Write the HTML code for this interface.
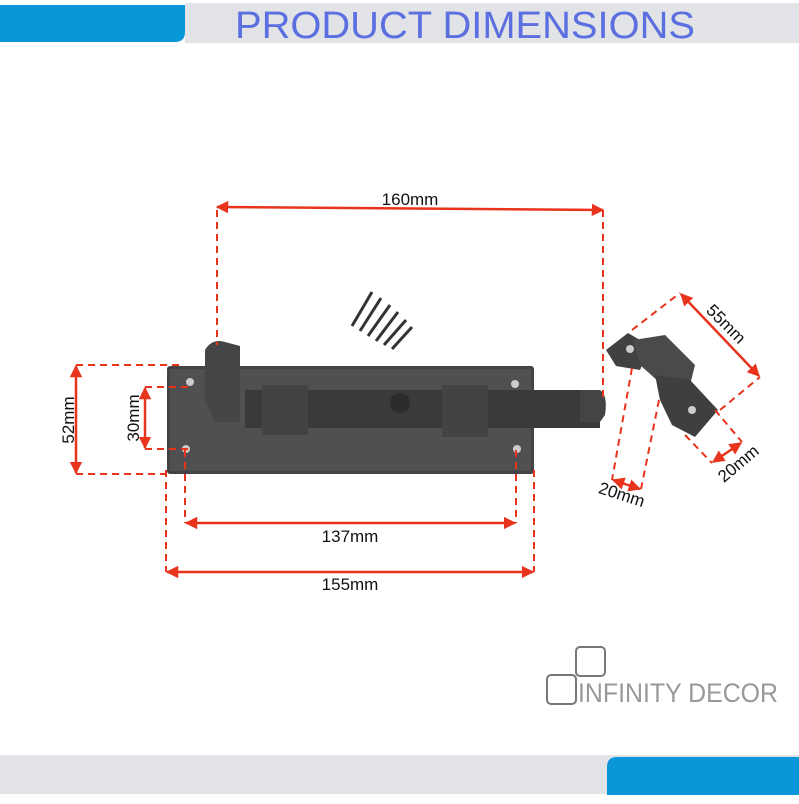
<!DOCTYPE html>
<html><head><style>
body{margin:0;background:#fff;width:799px;height:799px;overflow:hidden;font-family:"Liberation Sans",sans-serif}
</style></head><body>
<svg width="799" height="799" viewBox="0 0 799 799" xmlns="http://www.w3.org/2000/svg">
<defs>
<marker id="a" viewBox="0 0 10 10" refX="9" refY="5" markerWidth="5" markerHeight="5" orient="auto-start-reverse"><path d="M0,0L10,5L0,10z" fill="#e8341c"/></marker>
</defs>
<rect x="185" y="3" width="614" height="40" fill="#e1e3e6"/>
<path d="M0,5H185V32Q185,42 175,42H0z" fill="#0a97d9"/>
<text x="465" y="38" text-anchor="middle" font-family="Liberation Sans Narrow, Liberation Sans" font-size="38" fill="#5b6fe0" textLength="460" lengthAdjust="spacingAndGlyphs">PRODUCT  DIMENSIONS</text>
<rect x="0" y="755" width="799" height="39" fill="#e1e3e6"/>
<path d="M617,757H799V795H607V767Q607,757 617,757z" fill="#0a97d9"/>
<rect x="576" y="647" width="29" height="29" rx="4" fill="none" stroke="#777" stroke-width="2"/>
<rect x="547" y="675" width="29" height="29" rx="4" fill="none" stroke="#777" stroke-width="2"/>
<text x="578" y="702" font-size="27" fill="#999" textLength="200" lengthAdjust="spacingAndGlyphs">INFINITY DECOR</text>
<rect x="167" y="366" width="367" height="108" rx="3" fill="#434345"/>
<rect x="170" y="369" width="361" height="102" fill="#505052"/>
<circle cx="190" cy="382" r="4" fill="#ccc"/><circle cx="186" cy="449" r="4" fill="#ccc"/>
<circle cx="515" cy="384" r="4" fill="#ccc"/><circle cx="517" cy="449" r="4" fill="#ccc"/>
<rect x="245" y="390" width="355" height="38" fill="#3a3a3c"/>
<path d="M580,390H600Q608,395 605,415L600,422H580z" fill="#444446"/>
<rect x="262" y="385" width="46" height="50" fill="#434345"/>
<rect x="442" y="385" width="46" height="52" fill="#434345"/>
<circle cx="400" cy="403" r="10" fill="#2c2c2e"/>
<path d="M205,350Q212,338 225,342L240,346V422H215L205,400z" fill="#454547"/>
<g stroke="#333" stroke-width="3">
<line x1="352" y1="326" x2="372" y2="292"/><line x1="360" y1="331" x2="381" y2="298"/>
<line x1="368" y1="336" x2="390" y2="305"/><line x1="376" y1="341" x2="398" y2="312"/>
<line x1="384" y1="345" x2="406" y2="320"/><line x1="392" y1="349" x2="412" y2="327"/>
</g>
<path d="M606,350L628,333L650,346L640,370L616,366z" fill="#414143"/>
<path d="M633,340L665,335L695,365L690,385L668,390L640,365z" fill="#4a4a4c"/>
<path d="M655,375L690,380L718,410L695,437L672,425L660,400z" fill="#3f3f41"/>
<circle cx="630" cy="349" r="4" fill="#ccc"/><circle cx="692" cy="410" r="4" fill="#ccc"/>
<g stroke="#e8341c" stroke-width="2" fill="none" stroke-dasharray="7,5">
<line x1="217" y1="210" x2="217" y2="345"/><line x1="603" y1="210" x2="603" y2="400"/>
<line x1="76" y1="365" x2="180" y2="365"/><line x1="76" y1="474" x2="172" y2="474"/>
<line x1="145" y1="387" x2="190" y2="387"/><line x1="145" y1="449" x2="190" y2="449"/>
<line x1="185" y1="450" x2="185" y2="523"/><line x1="516" y1="450" x2="516" y2="523"/>
<line x1="166" y1="470" x2="166" y2="572"/><line x1="534" y1="470" x2="534" y2="572"/>
<line x1="632" y1="330" x2="680" y2="293"/><line x1="720" y1="410" x2="760" y2="377"/>
<line x1="685" y1="435" x2="712" y2="463"/><line x1="715" y1="410" x2="742" y2="442"/>
<line x1="632" y1="368" x2="612" y2="480"/><line x1="659" y1="400" x2="641" y2="489"/>
</g>
<g stroke="#e8341c" stroke-width="2.5" marker-start="url(#a)" marker-end="url(#a)">
<line x1="217" y1="207" x2="603" y2="210"/>
<line x1="76" y1="366" x2="76" y2="473"/>
<line x1="145" y1="388" x2="145" y2="448"/>
<line x1="186" y1="523" x2="515" y2="523"/>
<line x1="167" y1="572" x2="533" y2="572"/>
<line x1="681" y1="294" x2="759" y2="376"/>
<line x1="713" y1="462" x2="741" y2="443"/>
<line x1="613" y1="480" x2="640" y2="489"/>
</g>
<g font-size="17" fill="#111">
<text x="410" y="205" text-anchor="middle">160mm</text>
<text x="350" y="542" text-anchor="middle">137mm</text>
<text x="350" y="590" text-anchor="middle">155mm</text>
<text transform="translate(74,420) rotate(-90)" text-anchor="middle">52mm</text>
<text transform="translate(139,418) rotate(-90)" text-anchor="middle">30mm</text>
<text transform="translate(722,328) rotate(45)" text-anchor="middle">55mm</text>
<text transform="translate(742,468) rotate(-40)" text-anchor="middle">20mm</text>
<text transform="translate(620,500) rotate(18)" text-anchor="middle">20mm</text>
</g>
</svg>
</body></html>
